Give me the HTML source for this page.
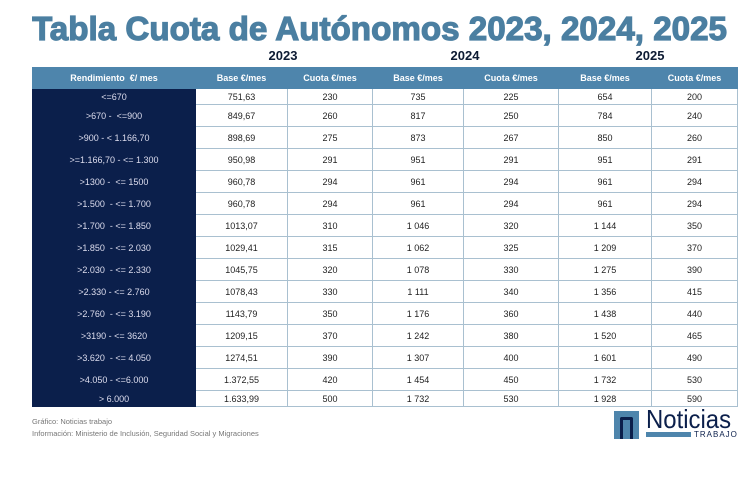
<!DOCTYPE html>
<html><head><meta charset="utf-8"><style>
body{margin:0;width:753px;height:482px;background:#fff;position:relative;overflow:hidden;font-family:"Liberation Sans",sans-serif}
.t{position:absolute;left:32px;top:8px}
.yr{position:absolute;top:48px;font-weight:bold;font-size:13px;color:#0d1b33;transform:translateX(-50%)}
table{position:absolute;left:32px;top:67px;border-collapse:collapse;table-layout:fixed;width:705px}
td,th{font-size:9px;text-align:center;padding:0;border:1px solid #a9c0d0;color:#222}
th{background:#4e85ac;color:#fff;font-weight:bold;height:20px;border-color:#4e85ac}
td.l{background:#0b1f4b;color:#dde;border-color:#0b1f4b}
tr.s td{height:15px}
tr.n td{height:21px}
.f{position:absolute;left:32px;font-size:7.5px;color:#777}
</style></head><body>
<svg class="t" width="700" height="40"><text x="0" y="32" textLength="695" lengthAdjust="spacingAndGlyphs" font-family="Liberation Sans" font-weight="bold" font-size="33" fill="#4b7fa1" stroke="#4b7fa1" stroke-width="1.2">Tabla Cuota de Autónomos 2023, 2024, 2025</text></svg>
<div class="yr" style="left:283px">2023</div>
<div class="yr" style="left:465px">2024</div>
<div class="yr" style="left:650px">2025</div>
<table>
<colgroup><col style="width:163px"><col style="width:92px"><col style="width:85px"><col style="width:91px"><col style="width:95px"><col style="width:93px"><col style="width:86px"></colgroup>
<tr><th>Rendimiento &nbsp;€/ mes</th><th>Base €/mes</th><th>Cuota €/mes</th><th>Base €/mes</th><th>Cuota €/mes</th><th>Base €/mes</th><th>Cuota €/mes</th></tr>
<tr class="s"><td class="l">&lt;=670</td><td>751,63</td><td>230</td><td>735</td><td>225</td><td>654</td><td>200</td></tr>
<tr class="n"><td class="l">&gt;670 - &nbsp;&lt;=900</td><td>849,67</td><td>260</td><td>817</td><td>250</td><td>784</td><td>240</td></tr>
<tr class="n"><td class="l">&gt;900 - &lt; 1.166,70</td><td>898,69</td><td>275</td><td>873</td><td>267</td><td>850</td><td>260</td></tr>
<tr class="n"><td class="l">&gt;=1.166,70 - &lt;= 1.300</td><td>950,98</td><td>291</td><td>951</td><td>291</td><td>951</td><td>291</td></tr>
<tr class="n"><td class="l">&gt;1300 - &nbsp;&lt;= 1500</td><td>960,78</td><td>294</td><td>961</td><td>294</td><td>961</td><td>294</td></tr>
<tr class="n"><td class="l">&gt;1.500 &nbsp;- &lt;= 1.700</td><td>960,78</td><td>294</td><td>961</td><td>294</td><td>961</td><td>294</td></tr>
<tr class="n"><td class="l">&gt;1.700 &nbsp;- &lt;= 1.850</td><td>1013,07</td><td>310</td><td>1 046</td><td>320</td><td>1 144</td><td>350</td></tr>
<tr class="n"><td class="l">&gt;1.850 &nbsp;- &lt;= 2.030</td><td>1029,41</td><td>315</td><td>1 062</td><td>325</td><td>1 209</td><td>370</td></tr>
<tr class="n"><td class="l">&gt;2.030 &nbsp;- &lt;= 2.330</td><td>1045,75</td><td>320</td><td>1 078</td><td>330</td><td>1 275</td><td>390</td></tr>
<tr class="n"><td class="l">&gt;2.330 - &lt;= 2.760</td><td>1078,43</td><td>330</td><td>1 111</td><td>340</td><td>1 356</td><td>415</td></tr>
<tr class="n"><td class="l">&gt;2.760 &nbsp;- &lt;= 3.190</td><td>1143,79</td><td>350</td><td>1 176</td><td>360</td><td>1 438</td><td>440</td></tr>
<tr class="n"><td class="l">&gt;3190 - &lt;= 3620</td><td>1209,15</td><td>370</td><td>1 242</td><td>380</td><td>1 520</td><td>465</td></tr>
<tr class="n"><td class="l">&gt;3.620 &nbsp;- &lt;= 4.050</td><td>1274,51</td><td>390</td><td>1 307</td><td>400</td><td>1 601</td><td>490</td></tr>
<tr class="n"><td class="l">&gt;4.050 - &lt;=6.000</td><td>1.372,55</td><td>420</td><td>1 454</td><td>450</td><td>1 732</td><td>530</td></tr>
<tr class="s"><td class="l">&gt; 6.000</td><td>1.633,99</td><td>500</td><td>1 732</td><td>530</td><td>1 928</td><td>590</td></tr>
</table>
<div class="f" style="top:417px">Gráfico: Noticias trabajo</div>
<div class="f" style="top:429px">Información: Ministerio de Inclusión, Seguridad Social y Migraciones</div>
<div style="position:absolute;left:614px;top:411px;width:25px;height:28px;background:#4e85ac"></div>
<div style="position:absolute;left:620px;top:417px;width:13px;height:22px;border:3px solid #0b1f4b;border-bottom:none;box-sizing:border-box;border-radius:2px 2px 0 0"></div>
<div style="position:absolute;left:646px;top:404px;font-size:26px;color:#0b1f4b;letter-spacing:0px;transform:scaleX(0.92);transform-origin:left">Noticias</div>
<div style="position:absolute;left:646px;top:432px;width:45px;height:5px;background:#4e85ac"></div>
<div style="position:absolute;left:694px;top:430px;font-size:8px;color:#0b1f4b;letter-spacing:1px">TRABAJO</div>
</body></html>
